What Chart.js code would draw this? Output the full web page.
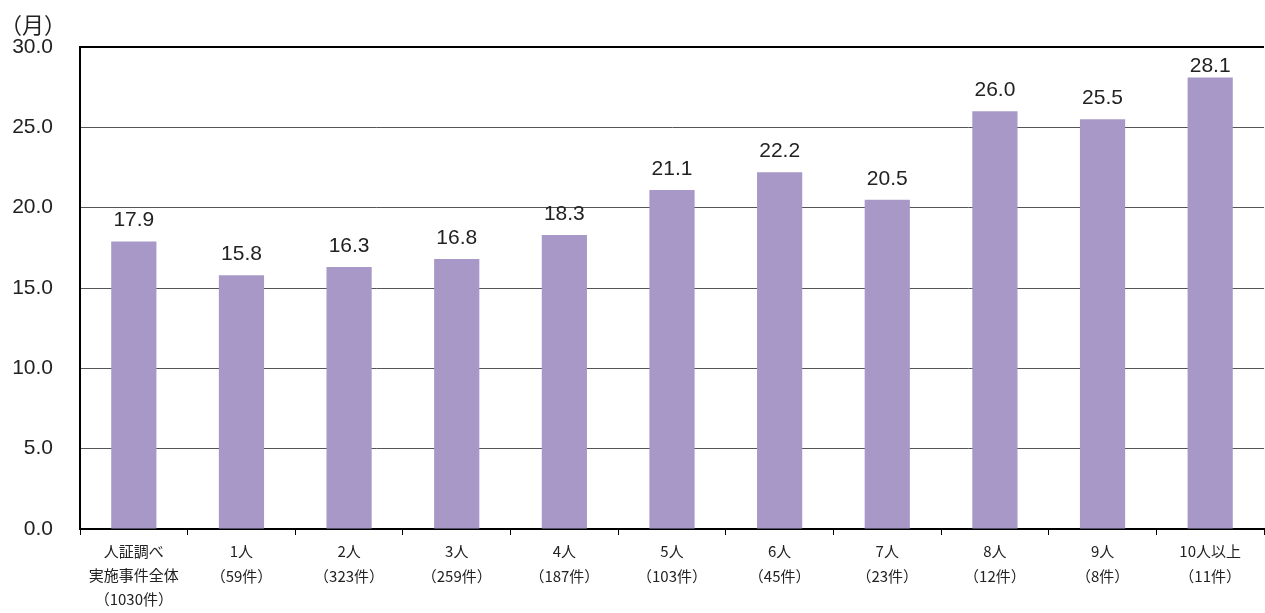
<!DOCTYPE html>
<html>
<head>
<meta charset="utf-8">
<script src="https://cdn.jsdelivr.net/npm/chart.js@4"></script>
<style>
html,body{margin:0;padding:0;background:#fff;}
#wrap{width:1265px;height:613px;}
</style>
</head>
<body>
<div id="wrap"><canvas id="c" width="1265" height="613"></canvas></div>
<script>
const categories = [
  ['人証調べ','実施事件全体','（1030件）'],
  ['1人','（59件）'],
  ['2人','（323件）'],
  ['3人','（259件）'],
  ['4人','（187件）'],
  ['5人','（103件）'],
  ['6人','（45件）'],
  ['7人','（23件）'],
  ['8人','（12件）'],
  ['9人','（8件）'],
  ['10人以上','（11件）']
];
const values = [17.9, 15.8, 16.3, 16.8, 18.3, 21.1, 22.2, 20.5, 26.0, 25.5, 28.1];
const yUnit = '（月）';
const yMin = 0, yMax = 30, yStep = 5;

const CJK = '"Noto Sans CJK JP", "Noto Sans", sans-serif';
const NUM = '"Liberation Sans", Arial, sans-serif';

const valueLabels = {
  id: 'valueLabels',
  afterDatasetsDraw(chart) {
    const ctx = chart.ctx;
    const meta = chart.getDatasetMeta(0);
    const minBase = chart.chartArea.top + 25;
    ctx.save();
    ctx.font = '21px ' + NUM;
    ctx.fillStyle = '#222';
    ctx.textAlign = 'center';
    ctx.textBaseline = 'alphabetic';
    meta.data.forEach((bar, i) => {
      ctx.fillText(values[i].toFixed(1), bar.x, Math.max(bar.y - 15, minBase));
    });
    ctx.restore();
  }
};

new Chart(document.getElementById('c'), {
  type: 'bar',
  data: {
    labels: categories,
    datasets: [{
      data: values,
      backgroundColor: '#a898c8',
      borderWidth: 0,
      categoryPercentage: 1,
      barPercentage: 0.42
    }]
  },
  options: {
    responsive: false,
    animation: false,
    layout: { padding: { left: 0, right: 1, top: 0, bottom: 0 } },
    plugins: {
      legend: { display: false },
      tooltip: { enabled: false },
      title: {
        display: true,
        text: yUnit,
        align: 'start',
        color: '#222',
        font: { family: CJK, size: 22, weight: 'normal', lineHeight: '26px' },
        padding: { top: 12, bottom: 9 }
      }
    },
    scales: {
      x: {
        grid: {
          offset: true,
          drawOnChartArea: false,
          drawTicks: true,
          tickLength: 6,
          color: '#000',
          lineWidth: 1
        },
        border: { display: true, color: '#000', width: 2 },
        ticks: {
          color: '#222',
          padding: 4,
          maxRotation: 0,
          autoSkip: false,
          font: (ctx) => ({ family: CJK, size: 15, lineHeight: ctx.index === 0 ? '24px' : '25px' })
        },
        afterFit: (s) => { s.height = 84; }
      },
      y: {
        min: yMin,
        max: yMax,
        grid: {
          drawTicks: false,
          color: (ctx) => (ctx.tick && (ctx.tick.value === yMax || ctx.tick.value === yMin)) ? '#000' : '#555',
          lineWidth: (ctx) => (ctx.tick && ctx.tick.value === yMax) ? 2 : 1
        },
        border: { display: true, color: '#000', width: 2 },
        ticks: {
          stepSize: yStep,
          padding: 27,
          color: '#222',
          font: { family: NUM, size: 21 },
          callback: (v) => Number(v).toFixed(1)
        },
        afterFit: (s) => { s.width = 80; }
      }
    }
  },
  plugins: [valueLabels]
});
</script>
</body>
</html>
